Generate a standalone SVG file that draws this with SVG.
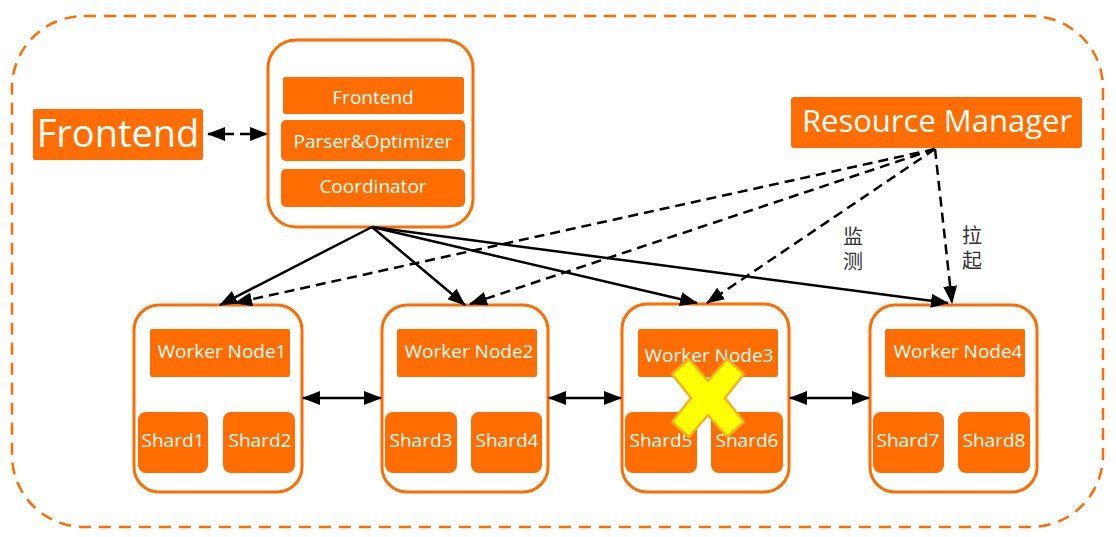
<svg xmlns="http://www.w3.org/2000/svg" width="1116" height="537" viewBox="0 0 1116 537">
<style>
.box{fill:#FF6D00;}
.cont{fill:#FFFFFF;stroke:#FF6D00;stroke-width:3;}
.t{font-family:"Open Sans","Noto Sans",sans-serif;fill:#FFFFFF;text-anchor:middle;dominant-baseline:central;}
.s{font-size:19px;}
.ln{stroke:#000;stroke-width:2.5;fill:none;}
.dl{stroke:#000;stroke-width:2.5;fill:none;stroke-dasharray:10 6;}
.cn{font-family:"Noto Sans CJK SC",serif;font-size:20px;fill:#333;writing-mode:vertical-rl;letter-spacing:5px;}
</style>
<defs>
<marker id="ah" markerUnits="userSpaceOnUse" markerWidth="18" markerHeight="14" refX="17" refY="7" orient="auto-start-reverse">
<path d="M0,0 L18,7 L0,14 Z" fill="#000"/>
</marker>
</defs>
<rect x="12" y="16" width="1091" height="511" rx="72" fill="#FFFFFF" stroke="#FF6D00" stroke-width="2.5" stroke-dasharray="12 8"/>

<g id="frontend-client">
<rect class="box" x="33" y="109" width="170" height="51" rx="2"/>
<text class="t" x="118" y="132" font-size="38">Frontend</text>
</g>

<g id="coordinator-node">
<rect class="cont" x="268" y="40" width="205" height="187" rx="28"/>
<rect class="box" x="283" y="77" width="181" height="37" rx="2"/>
<text class="t s" x="373" y="97">Frontend</text>
<rect class="box" x="281" y="120" width="184" height="41" rx="5"/>
<text class="t s" x="373" y="141">Parser&amp;Optimizer</text>
<rect class="box" x="281" y="169" width="184" height="38" rx="5"/>
<text class="t s" x="373" y="186">Coordinator</text>
</g>

<g id="resource-manager">
<rect class="box" x="791" y="97" width="291" height="51" rx="3"/>
<text class="t" x="937" y="120" font-size="31">Resource Manager</text>
</g>

<g id="worker1">
<rect class="cont" x="134" y="305" width="168" height="187" rx="25"/>
<rect class="box" x="150" y="329" width="140" height="48" rx="2"/>
<text class="t s" x="222" y="351">Worker Node1</text>
<rect class="box" x="138" y="412" width="70" height="61" rx="8"/>
<text class="t s" x="173" y="440">Shard1</text>
<rect class="box" x="223" y="412" width="72" height="61" rx="8"/>
<text class="t s" x="260" y="440">Shard2</text>
</g>

<g id="worker2">
<rect class="cont" x="382" y="305" width="166" height="187" rx="25"/>
<rect class="box" x="397" y="329" width="140" height="48" rx="2"/>
<text class="t s" x="469" y="351">Worker Node2</text>
<rect class="box" x="385" y="412" width="72" height="61" rx="8"/>
<text class="t s" x="421" y="440">Shard3</text>
<rect class="box" x="471" y="412" width="71" height="61" rx="8"/>
<text class="t s" x="507" y="440">Shard4</text>
</g>

<g id="worker3">
<rect class="cont" x="622" y="304" width="167" height="188" rx="25"/>
<rect class="box" x="638" y="329" width="140" height="48" rx="2"/>
<text class="t s" x="709" y="355">Worker Node3</text>
<rect class="box" x="625" y="412" width="72" height="61" rx="8"/>
<text class="t s" x="661" y="440">Shard5</text>
<rect class="box" x="711" y="412" width="72" height="61" rx="8"/>
<text class="t s" x="747" y="440">Shard6</text>
</g>

<g id="worker4">
<rect class="cont" x="870" y="305" width="167" height="187" rx="25"/>
<rect class="box" x="885" y="329" width="140" height="48" rx="2"/>
<text class="t s" x="958" y="351">Worker Node4</text>
<rect class="box" x="873" y="412" width="71" height="61" rx="8"/>
<text class="t s" x="908" y="440">Shard7</text>
<rect class="box" x="958" y="412" width="72" height="61" rx="8"/>
<text class="t s" x="994" y="440">Shard8</text>
</g>

<g id="connectors">
<line class="dl" x1="208" y1="134" x2="267" y2="134" marker-start="url(#ah)" marker-end="url(#ah)"/>
<line class="ln" x1="372" y1="227" x2="220" y2="305" marker-end="url(#ah)"/>
<line class="ln" x1="372" y1="227" x2="465" y2="305" marker-end="url(#ah)"/>
<line class="ln" x1="372" y1="227" x2="697" y2="303" marker-end="url(#ah)"/>
<line class="ln" x1="372" y1="227" x2="948" y2="303" marker-end="url(#ah)"/>
<line class="dl" x1="935" y1="149" x2="235" y2="303" marker-end="url(#ah)"/>
<line class="dl" x1="935" y1="149" x2="470" y2="304" marker-end="url(#ah)"/>
<line class="dl" x1="935" y1="149" x2="707" y2="303" marker-end="url(#ah)"/>
<line class="dl" x1="935" y1="149" x2="952" y2="303" marker-end="url(#ah)"/>
<line class="ln" x1="303" y1="398" x2="381" y2="398" marker-start="url(#ah)" marker-end="url(#ah)"/>
<line class="ln" x1="549" y1="398" x2="621" y2="398" marker-start="url(#ah)" marker-end="url(#ah)"/>
<line class="ln" x1="790" y1="398" x2="869" y2="398" marker-start="url(#ah)" marker-end="url(#ah)"/>
<text class="cn" x="853" y="226">监测</text>
<text class="cn" x="972" y="225">拉起</text>
</g>

<g id="failure-mark">
<polygon points="672,374 689,359 708,381 727,359 744,374 725,398 744,422 727,437 708,415 689,437 672,422 691,398" fill="#FFFF00" stroke="#F5B020" stroke-width="2.5" stroke-linejoin="round"/>
</g>
</svg>
